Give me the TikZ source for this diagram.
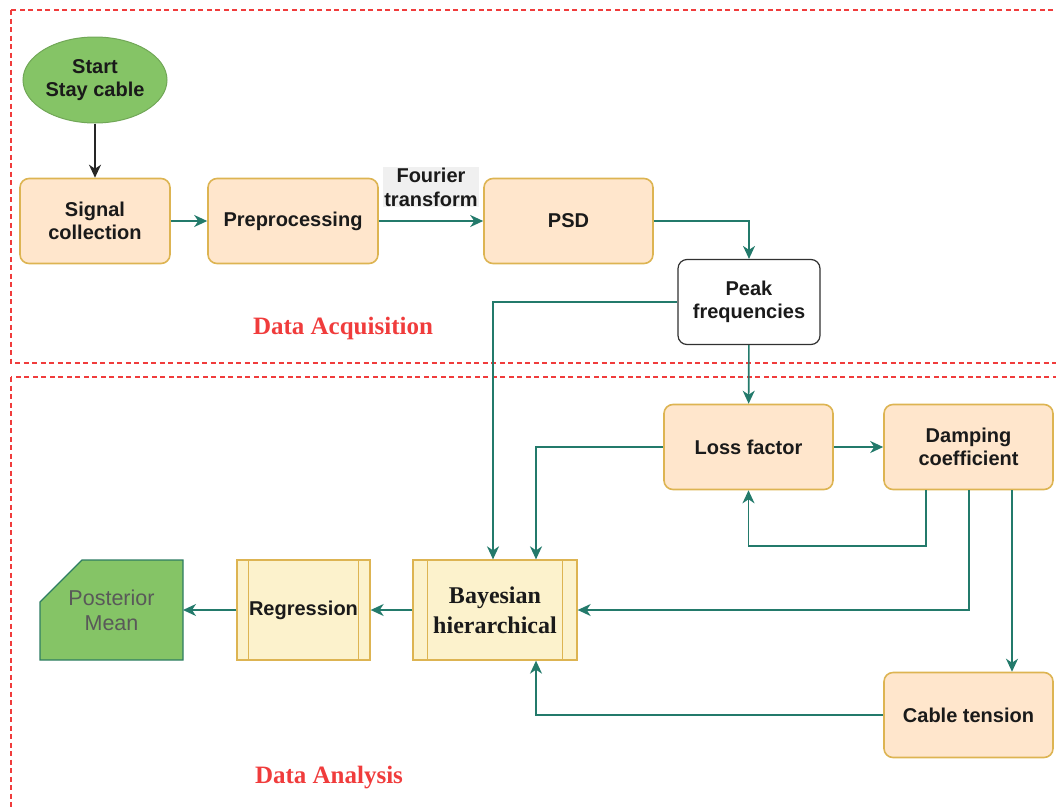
\documentclass[tikz,border=0pt]{standalone}
\usepackage{fontspec}
\setmainfont{Liberation Serif}
\setsansfont{Liberation Sans}
\usetikzlibrary{arrows.meta,shapes.geometric,shapes.misc}
\definecolor{boxfill}{HTML}{FFE6CC}
\definecolor{boxline}{HTML}{DDB452}
\definecolor{procfill}{HTML}{FCF2CC}
\definecolor{startgreen}{HTML}{85C466}
\definecolor{postline}{HTML}{2E7D62}
\definecolor{flow}{HTML}{237A6B}
\definecolor{zonered}{HTML}{F03C3C}
\definecolor{txt}{HTML}{1A1A1A}
\tikzset{
  stepbox/.style={rectangle,rounded corners=9pt,draw=boxline,fill=boxfill,line width=1.6pt,
    minimum width=169pt,minimum height=85pt,align=center,text=txt,
    font=\sffamily\bfseries\fontsize{20}{23.5}\selectfont},
  procbox/.style={rectangle,draw=boxline,fill=procfill,line width=1.3pt,
    minimum height=100pt,align=center,text=txt},
  flowline/.style={draw=flow,line width=1.6pt,-{Stealth[length=13pt,width=12pt,inset=4pt]}},
  zone/.style={draw=zonered,line width=1.3pt,dash pattern=on 5pt off 3.5pt},
  zonelabel/.style={text=zonered,font=\rmfamily\bfseries\fontsize{25}{28}\selectfont},
}
\begin{document}
\begin{tikzpicture}[x=1pt,y=-1pt]
        \useasboundingbox (0,0) rectangle (1056,806);
        % zones
        \draw [zone] (11,10) rectangle (1080,363);
        \draw [zone] (11,377) rectangle (1080,830);
        \node [zonelabel] (acq) at (343,328) {Data Acquisition};
        \node [zonelabel] (ana) at (329,778) {Data Analysis};
        % acquisition
        \node [ellipse,draw=startgreen!85!black,fill=startgreen,line width=1pt,inner sep=0pt,
               minimum width=144pt,minimum height=86pt,align=center,text=txt,
               font=\sffamily\bfseries\fontsize{20}{23.5}\selectfont] (start) at (95,80) {Start\\Stay cable};
        \node [stepbox,minimum width=150pt] (sig) at (95,221) {Signal\\collection};
        \node [stepbox,minimum width=170pt] (pre) at (293,221) {Preprocessing};
        \node [stepbox] (psd) at (568.5,221) {PSD};
        \node [stepbox,minimum width=142pt,draw=txt!90,fill=white,line width=1.2pt] (peak) at (749,302) {Peak\\frequencies};
        % analysis
        \node [stepbox] (loss) at (748.5,447) {Loss factor};
        \node [stepbox] (damp) at (968.5,447) {Damping\\coefficient};
        \node [stepbox] (cable) at (968.5,715) {Cable tension};
        \node [procbox,minimum width=164pt,font=\rmfamily\bfseries\fontsize{24}{30}\selectfont] (bay) at (495,610) {Bayesian\\hierarchical};
        \node [procbox,minimum width=133pt,font=\sffamily\bfseries\fontsize{20}{23.5}\selectfont] (reg) at (303.5,610) {Regression};
        \draw [boxline,line width=1.3pt] (bay.north west)+(15,0) -- +(15,100) (bay.north east)+(-15,0) -- +(-15,100);
        \draw [boxline,line width=1.3pt] (reg.north west)+(12,0) -- +(12,100) (reg.north east)+(-12,0) -- +(-12,100);
        \draw [draw=postline,fill=startgreen,line width=1.3pt] (40,602) -- (82,560) -- (183,560) -- (183,660) -- (40,660) -- cycle;
        \node [align=center,text=black!65,font=\sffamily\fontsize{21.5}{25}\selectfont] (post) at (111.5,610) {Posterior\\Mean};
        \coordinate (postin) at (183,610);
        % connectors
        \draw [line width=1.4pt,black!85,-{Stealth[length=13pt,width=12pt,inset=4pt]}] (start) -- (sig);
        \draw [flowline] (sig) -- (pre);
        \draw [flowline] (pre) -- node [above=13pt,fill=black!6,inner sep=1pt,align=center,text=txt,
               font=\sffamily\bfseries\fontsize{20}{23.5}\selectfont] (ft) {Fourier\\transform} (psd);
        \draw [flowline] (psd) -| (peak);
        \draw [flowline] (peak.west) -| (bay.north west -| 493,0);
        \draw [flowline] (peak) -- (loss);
        \draw [flowline] (loss) -- (damp);
        \draw [flowline] (loss.west) -| (bay.north west -| 536,0);
        \draw [flowline] (damp.south west -| 926,0) -- (926,546) -| (loss.south);
        \draw [flowline] (damp.south -| 969,0) |- (bay.east);
        \draw [flowline] (damp.south -| 1012,0) -- (cable.north -| 1012,0);
        \draw [flowline] (cable.west) -| (bay.south west -| 536,0);
        \draw [flowline] (bay) -- (reg);
        \draw [flowline] (reg) -- (postin);
      \end{tikzpicture}
\end{document}
